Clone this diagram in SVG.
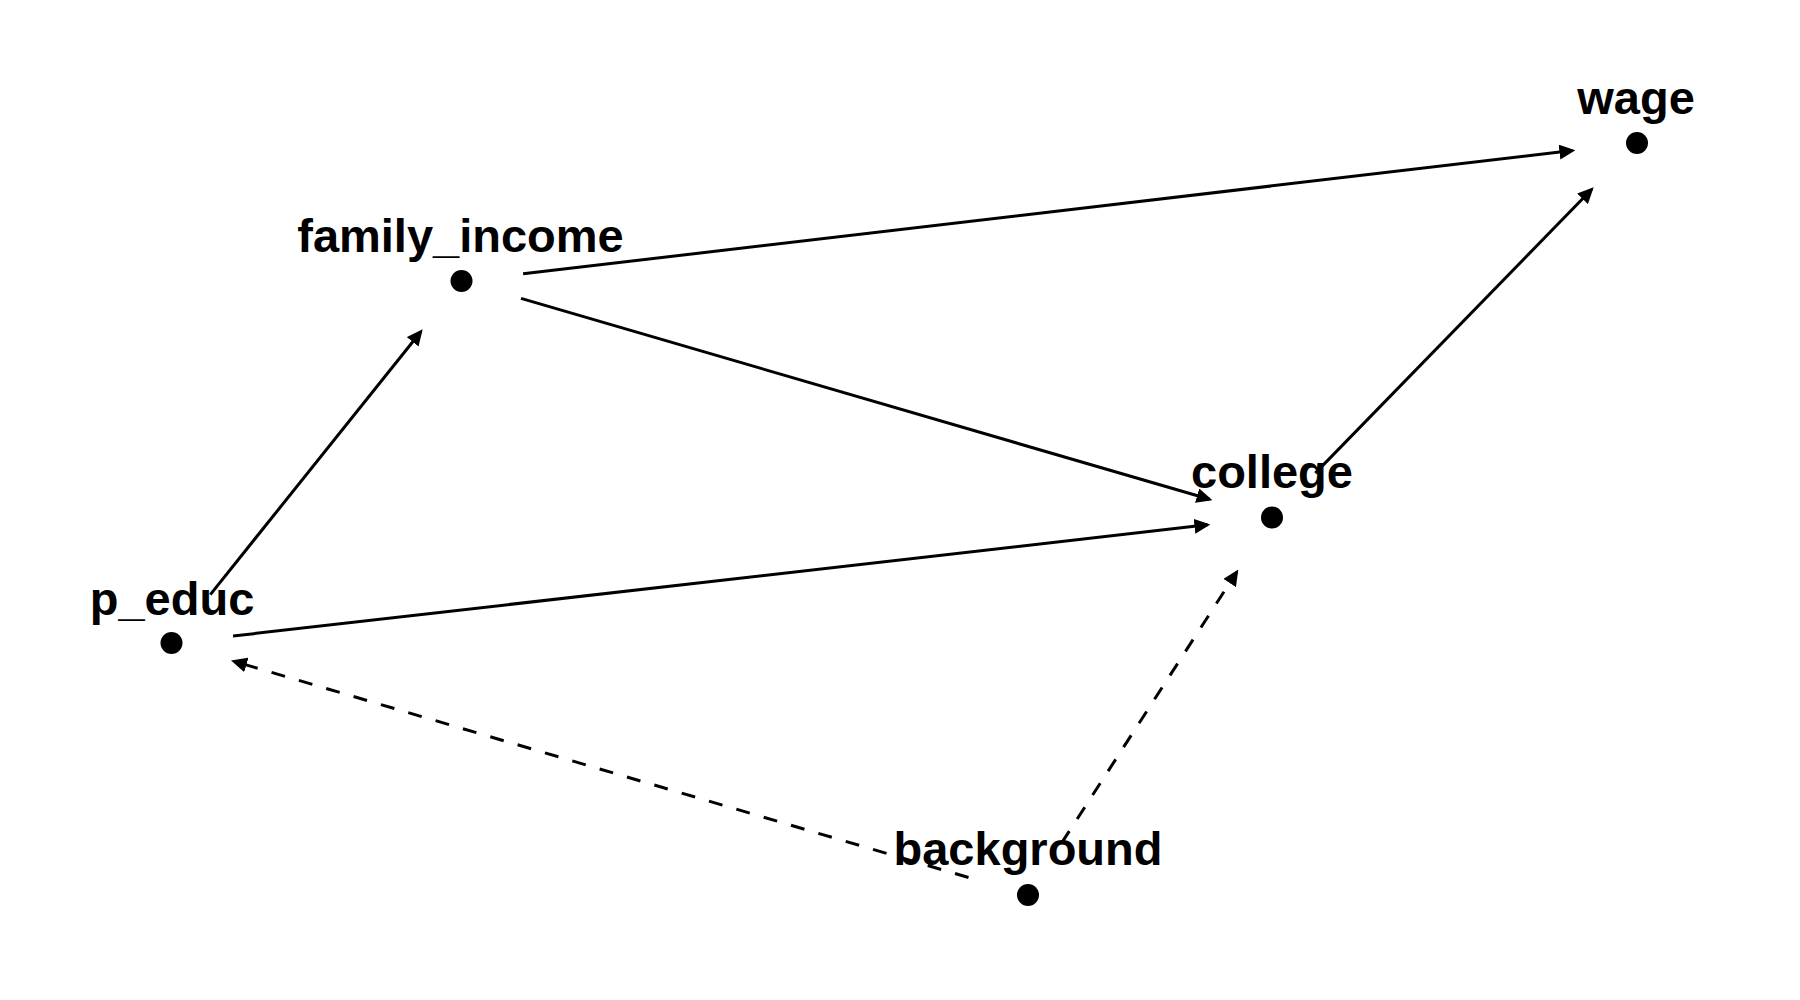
<svg xmlns="http://www.w3.org/2000/svg" width="1800" height="1000" viewBox="0 0 1800 1000">
<defs>
<style>
.lbl{font-family:"Liberation Sans",Arial,sans-serif;font-weight:bold;font-size:47px;fill:#000;text-anchor:middle}
.dot{fill:#000}
.edge{fill:none;stroke:#000;stroke-width:3}
.dash{stroke-dasharray:14 14.5}
</style>
<marker id="arr" viewBox="0 0 16 15" markerWidth="16" markerHeight="15" refX="13" refY="7.5" orient="auto" markerUnits="userSpaceOnUse">
<path d="M0,0 L16,7.5 L0,15 z" fill="#000"/>
</marker>
</defs>
<rect width="1800" height="1000" fill="#fff"/>
<g id="nodes">
<g id="wage"><circle class="dot" cx="1637" cy="143" r="11"/><text class="lbl" x="1636" y="114">wage</text></g>
<g id="family_income"><circle class="dot" cx="461.5" cy="281" r="11"/><text class="lbl" x="460.5" y="252">family_income</text></g>
<g id="college"><circle class="dot" cx="1272" cy="517.5" r="11"/><text class="lbl" x="1272" y="488">college</text></g>
<g id="p_educ"><circle class="dot" cx="171.5" cy="643" r="11"/><text class="lbl" x="172" y="615">p_educ</text></g>
<g id="background"><circle class="dot" cx="1028" cy="895" r="11"/><text class="lbl" x="1028" y="865">background</text></g>
</g>
<g id="connectors">
<line class="edge" x1="523.1" y1="273.8" x2="1572.4" y2="150.6" marker-end="url(#arr)"/>
<line class="edge" x1="1315.3" y1="473.1" x2="1591.6" y2="189.5" marker-end="url(#arr)"/>
<line class="edge" x1="521.0" y1="298.4" x2="1209.6" y2="499.3" marker-end="url(#arr)"/>
<line class="edge" x1="233.1" y1="636.0" x2="1207.4" y2="524.8" marker-end="url(#arr)"/>
<line class="edge" x1="210.3" y1="594.6" x2="420.8" y2="331.7" marker-end="url(#arr)"/>
<line class="edge dash" x1="968.5" y1="877.5" x2="233.9" y2="661.3" marker-end="url(#arr)"/>
<line class="edge dash" x1="1061.7" y1="842.9" x2="1236.7" y2="572.1" marker-end="url(#arr)"/>
</g>
</svg>
